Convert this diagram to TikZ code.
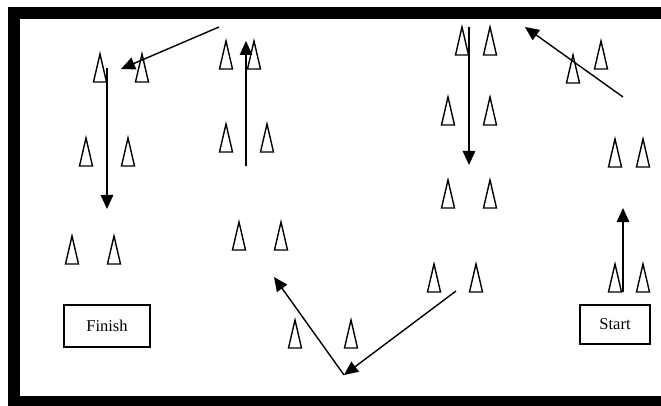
\documentclass[tikz,border=0pt]{standalone}
\usepackage{fontspec}
\setmainfont{Liberation Serif}
\usetikzlibrary{arrows.meta}
\begin{document}
\begin{tikzpicture}[x=1pt,y=-1pt,
  cone/.pic={\draw[line width=1.4pt,line join=miter] (-6.5,0) -- (0,-28) -- (6.5,0) -- cycle;},
  run/.style={line width=1.4pt,-{Triangle[length=14pt,width=12.5pt]}},
  label/.style={draw,line width=1.3pt,font=\fontsize{16.5}{18}\selectfont,inner sep=0pt}]
\useasboundingbox (0,0) rectangle (661,406);
% field border
\fill[black] (8,7) rectangle (680,420);
\fill[white] (20,19) rectangle (680,396);
% cones, placed by the middle of their base
\foreach \cx/\by in {100/82,142/82,226/69,254/69,86/166,128/166,226/152,267/152,
  462/55,490/55,448/125,490/125,573/83,601/69,615/167,643/167,448/208,490/208,
  72/264,114/264,239/250,281/250,295/348,351/348,434/292,476/292,615/292,643/292}
  \pic at (\cx,\by) {cone};
% start and finish boxes
\node[label,minimum width=86pt,minimum height=42pt] (finish) at (107,326) {Finish};
\node[label,minimum width=70pt,minimum height=39pt] (start) at (615,324.5) {Start};
% route points
\coordinate (s0) at (623,292);
\coordinate (s1) at (623,208);
\coordinate (a0) at (623,97);
\coordinate (a1) at (525,27);
\coordinate (b0) at (469,27);
\coordinate (b1) at (469,165);
\coordinate (c0) at (456,291);
\coordinate (v) at (344,375);
\coordinate (d1) at (274,277);
\coordinate (e0) at (246,166);
\coordinate (e1) at (246,41);
\coordinate (f0) at (219,27);
\coordinate (f1) at (121,69);
\coordinate (g0) at (107,68);
\coordinate (g1) at (107,209);
% route arrows
\draw[run] (s0) -- (s1);
\draw[run] (a0) -- (a1);
\draw[run] (b0) -- (b1);
\draw[run] (c0) -- (v);
\draw[run] (v) -- (d1);
\draw[run] (e0) -- (e1);
\draw[run] (f0) -- (f1);
\draw[run] (g0) -- (g1);
\end{tikzpicture}
\end{document}
